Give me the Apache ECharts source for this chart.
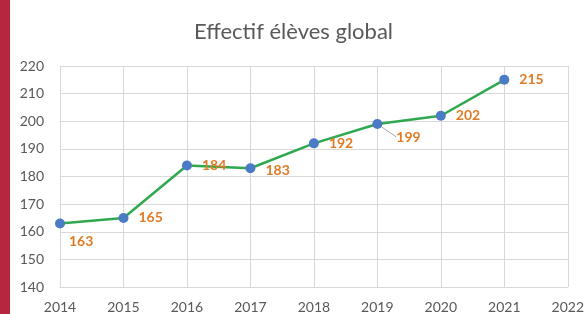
<!DOCTYPE html>
<html>
<head>
<meta charset="utf-8">
<script src="https://cdn.jsdelivr.net/npm/echarts@6/dist/echarts.min.js"></script>
<style>
  html, body { margin: 0; padding: 0; background: #ffffff; }
  #side { position: absolute; left: 0; top: 0; width: 10px; height: 314px; background: #b8253f; }
  #chart { position: absolute; left: 0; top: 0; width: 587px; height: 314px; }
</style>
</head>
<body>
<div id="side"></div>
<div id="chart"></div>
<script>
// données
var years = [2014, 2015, 2016, 2017, 2018, 2019, 2020, 2021];
var effectifs = [163, 165, 184, 183, 192, 199, 202, 215];
var titleText = "Effectif élèves global";

var font = "Lato, 'Open Sans', sans-serif";

// décalage des étiquettes (comme dans l'original)
var labelShift = {
  0: { dx: -6, dy: 18 },
  3: { dx: 0, dy: 2 },
  5: { dx: 4, dy: 13 }
};

var seriesData = years.map(function (y, i) {
  return {
    value: [y, effectifs[i]],
    labelLine: { show: i === 5 }
  };
});

var chart = echarts.init(document.getElementById("chart"));
chart.setOption({
  animation: false,
  title: {
    text: titleText,
    left: "center",
    top: 16,
    textStyle: { fontFamily: font, fontSize: 22, fontWeight: "normal", color: "#595959" }
  },
  grid: { left: 60, right: 16, top: 66, bottom: 27 },
  xAxis: {
    type: "value",
    min: 2014,
    max: 2022,
    interval: 1,
    axisLine: { show: true, lineStyle: { color: "#d9d9d9" } },
    axisTick: { show: false },
    splitLine: { show: true, lineStyle: { color: "#d9d9d9" } },
    axisLabel: {
      color: "#595959", fontFamily: font, fontSize: 14, margin: 13,
      formatter: function (v) { return String(v); }
    }
  },
  yAxis: {
    type: "value",
    min: 140,
    max: 220,
    interval: 10,
    axisLine: { show: true, lineStyle: { color: "#d9d9d9" } },
    axisTick: { show: false },
    splitLine: { show: true, lineStyle: { color: "#d9d9d9" } },
    axisLabel: { color: "#595959", fontFamily: font, fontSize: 14, margin: 16 }
  },
  series: [{
    type: "line",
    data: seriesData,
    symbol: "circle",
    symbolSize: 10,
    lineStyle: { color: "#2fa84f", width: 2.5 },
    itemStyle: { color: "#4a7bc4" },
    label: {
      show: true,
      position: "right",
      distance: 10,
      color: "#e07b24",
      fontFamily: font,
      fontWeight: "bold",
      fontSize: 14,
      formatter: function (p) { return p.value[1]; }
    },
    labelLine: { lineStyle: { color: "#a6a6a6", width: 1 } },
    labelLayout: function (p) {
      var s = labelShift[p.dataIndex];
      return s ? { dx: s.dx, dy: s.dy } : {};
    }
  }]
});
</script>
</body>
</html>
